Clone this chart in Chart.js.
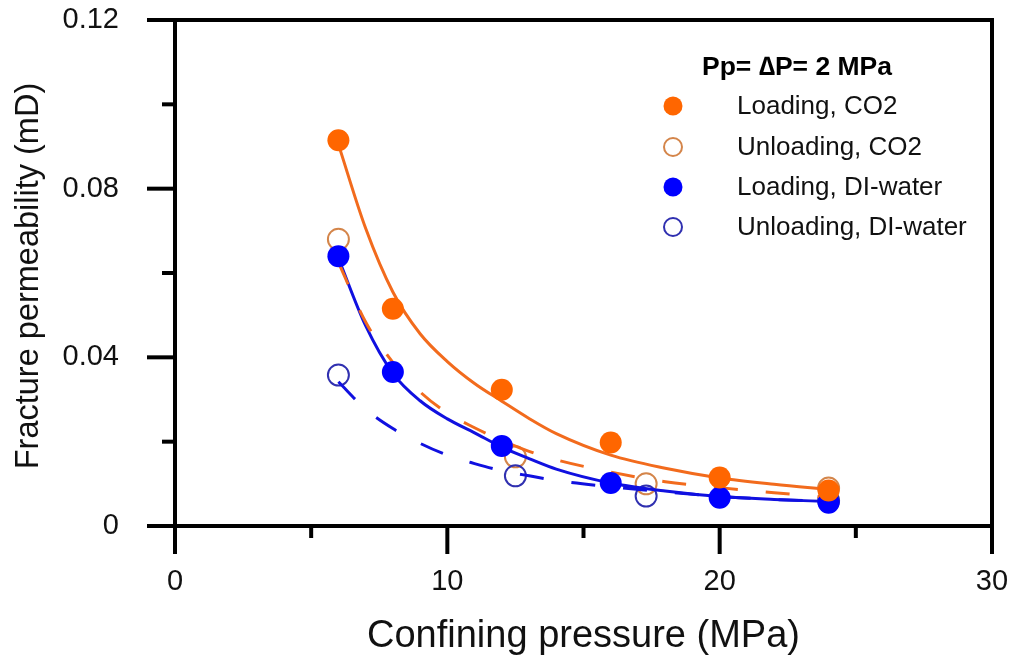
<!DOCTYPE html>
<html>
<head>
<meta charset="utf-8">
<script src="https://cdn.jsdelivr.net/npm/chart.js@4/dist/chart.umd.min.js"></script>
<style>
    body { margin: 0; background: #ffffff; }
    #wrap { width: 1013px; height: 664px; position: relative; }
</style>
</head>
<body>
<div id="wrap"><canvas id="permChart"></canvas></div>
<script>
// measured points
const pressureLoad = [6, 8, 12, 16, 20, 24];
const loadingCO2 = [0.0915, 0.0515, 0.0323, 0.0198, 0.0115, 0.0084];
const loadingWater = [0.0640, 0.0365, 0.0190, 0.0102, 0.0067, 0.0055];

const pressureUnload = [6, 12.5, 17.3, 24];
const unloadingCO2 = [0.0680, 0.0164, 0.0100, 0.0090];
const unloadingWater = [0.0358, 0.0119, 0.0071, 0.0060];

// fitted curves
const fitPressure = [6, 7, 8, 9, 10, 11, 12, 13, 14, 16, 18, 20, 22, 24];
const fitLoadingCO2 = [0.0905, 0.0706, 0.0555, 0.0456, 0.0390, 0.0338, 0.0296, 0.0255, 0.0219, 0.0168, 0.0137, 0.0114, 0.0099, 0.0087];
const fitUnloadingCO2 = [0.0625, 0.0484, 0.0388, 0.0318, 0.0268, 0.0233, 0.0203, 0.0177, 0.0157, 0.0128, 0.0105, 0.0091, 0.0079, 0.0068];
const fitLoadingWater = [0.0635, 0.0475, 0.0362, 0.0297, 0.0254, 0.0221, 0.0187, 0.0160, 0.0135, 0.0102, 0.0083, 0.0070, 0.0063, 0.0058];
const fitUnloadingWater = [0.0342, 0.0277, 0.0231, 0.0196, 0.0168, 0.0148, 0.0131, 0.0119, 0.0108, 0.0093, 0.0081, 0.0070, 0.0063, 0.0058];

// axis ticks
const xTickValues = [0, 5, 10, 15, 20, 25, 30];
const xMajorTicks = [0, 10, 20, 30];
const yTickValues = [0, 0.02, 0.04, 0.06, 0.08, 0.10, 0.12];
const yMajorTicks = [0, 0.04, 0.08, 0.12];
const yTickLabels = ['0', '0.04', '0.08', '0.12'];

const yTitle = 'Fracture permeability (mD)';
const legendTitle = 'Pp= \u2206P= 2 MPa';
const legendLabels = ['Loading, CO2', 'Unloading, CO2', 'Loading, DI-water', 'Unloading, DI-water'];

const FONT = "'Liberation Sans', Arial, Helvetica, sans-serif";
const ORANGE = '#ff6600';
const ORANGE_OPEN = '#d4854a';
const ORANGE_LINE = '#f26b1d';
const BLUE = '#0000ff';
const BLUE_OPEN = '#3030b0';
const BLUE_LINE = '#1010e0';

function toPoints(xs, ys) {
    return xs.map((x, i) => ({ x: x, y: ys[i] }));
}

const frameAndTicks = {
    id: 'frameAndTicks',
    afterDraw(chart) {
        const ctx = chart.ctx;
        const area = chart.chartArea;
        const xs = chart.scales.x;
        const ys = chart.scales.y;

        ctx.save();
        ctx.strokeStyle = '#000000';
        ctx.lineWidth = 4;
        ctx.lineCap = 'butt';
        ctx.strokeRect(area.left, area.top, area.right - area.left, area.bottom - area.top);

        xTickValues.forEach(v => {
            const px = xs.getPixelForValue(v);
            const len = xMajorTicks.includes(v) ? 28 : 12;
            ctx.beginPath();
            ctx.moveTo(px, area.bottom);
            ctx.lineTo(px, area.bottom + len);
            ctx.stroke();
        });

        yTickValues.forEach(v => {
            const py = ys.getPixelForValue(v);
            const len = yMajorTicks.includes(v) ? 28 : 13;
            ctx.beginPath();
            ctx.moveTo(area.left, py);
            ctx.lineTo(area.left - len, py);
            ctx.stroke();
        });

        // y axis title
        ctx.save();
        ctx.translate(29, 276);
        ctx.rotate(-Math.PI / 2);
        ctx.fillStyle = '#111111';
        ctx.font = '32.5px ' + FONT;
        ctx.textAlign = 'center';
        ctx.textBaseline = 'middle';
        ctx.fillText(yTitle, 0, 0);
        ctx.restore();

        // legend inside the plot
        ctx.fillStyle = '#000000';
        ctx.textBaseline = 'middle';
        ctx.textAlign = 'center';
        ctx.font = 'bold 26.5px ' + FONT;
        ctx.fillText(legendTitle, 797, 68);

        const rows = [106, 147, 187, 227];
        const markers = [
            { fill: ORANGE, stroke: ORANGE },
            { fill: null, stroke: ORANGE_OPEN },
            { fill: BLUE, stroke: BLUE },
            { fill: null, stroke: BLUE_OPEN }
        ];
        ctx.font = '26px ' + FONT;
        ctx.textAlign = 'left';
        legendLabels.forEach((label, i) => {
            const m = markers[i];
            ctx.beginPath();
            ctx.arc(673, rows[i], m.fill ? 9.5 : 9, 0, Math.PI * 2);
            if (m.fill) {
                ctx.fillStyle = m.fill;
                ctx.fill();
            } else {
                ctx.strokeStyle = m.stroke;
                ctx.lineWidth = 2;
                ctx.stroke();
            }
            ctx.fillStyle = '#111111';
            ctx.fillText(label, 737, rows[i] + 1);
        });
        ctx.restore();
    }
};

function initChart() {
    const ctx = document.getElementById('permChart').getContext('2d');

    const pointSet = (label, xs, ys, fill, stroke, order) => ({
        label: label,
        data: toPoints(xs, ys),
        showLine: false,
        pointRadius: fill ? 11 : 10.5,
        pointBackgroundColor: fill || 'rgba(0,0,0,0)',
        pointBorderColor: stroke,
        pointBorderWidth: fill ? 0 : 2,
        order: order
    });

    const curveSet = (label, ys, color, dashed, order) => ({
        label: label,
        data: toPoints(fitPressure, ys),
        showLine: true,
        pointRadius: 0,
        borderColor: color,
        borderWidth: 3,
        borderDash: dashed ? [24, 28] : [],
        cubicInterpolationMode: 'monotone',
        fill: false,
        order: order
    });

    // invisible tick marks just push the labels away from the axis
    const hiddenGrid = (len) => ({
        display: true,
        drawOnChartArea: false,
        drawTicks: true,
        tickLength: len,
        color: 'rgba(0,0,0,0)'
    });

    new Chart(ctx, {
        type: 'scatter',
        data: {
            datasets: [
                pointSet('Loading, CO2', pressureLoad, loadingCO2, ORANGE, ORANGE, 1),
                pointSet('Loading, DI-water', pressureLoad, loadingWater, BLUE, BLUE, 2),
                curveSet('Fit loading CO2', fitLoadingCO2, ORANGE_LINE, false, 4),
                curveSet('Fit unloading CO2', fitUnloadingCO2, ORANGE_LINE, true, 3),
                curveSet('Fit loading DI-water', fitLoadingWater, BLUE_LINE, false, 5),
                curveSet('Fit unloading DI-water', fitUnloadingWater, BLUE_LINE, true, 6),
                pointSet('Unloading, CO2', pressureUnload, unloadingCO2, null, ORANGE_OPEN, 8),
                pointSet('Unloading, DI-water', pressureUnload, unloadingWater, null, BLUE_OPEN, 7)
            ]
        },
        options: {
            responsive: true,
            maintainAspectRatio: false,
            animation: false,
            layout: {
                padding: { left: 0, right: 21, top: 20, bottom: 0 }
            },
            plugins: {
                legend: { display: false },
                tooltip: { enabled: false }
            },
            scales: {
                x: {
                    type: 'linear',
                    min: 0,
                    max: 30,
                    afterFit: function(scale) { scale.height = 138; },
                    grid: hiddenGrid(39),
                    border: { display: false },
                    ticks: {
                        stepSize: 10,
                        padding: 0,
                        color: '#111111',
                        font: { family: FONT, size: 29 },
                        maxRotation: 0
                    },
                    title: {
                        display: true,
                        text: 'Confining pressure (MPa)',
                        color: '#111111',
                        font: { family: FONT, size: 38 },
                        padding: { top: 0, bottom: 5 }
                    }
                },
                y: {
                    type: 'linear',
                    min: 0,
                    max: 0.12,
                    afterFit: function(scale) { scale.width = 175; },
                    grid: hiddenGrid(56),
                    border: { display: false },
                    ticks: {
                        stepSize: 0.04,
                        padding: 0,
                        color: '#111111',
                        font: { family: FONT, size: 29 },
                        callback: function(value) {
                            const idx = yMajorTicks.findIndex(t => Math.abs(t - value) < 1e-9);
                            return idx >= 0 ? yTickLabels[idx] : '';
                        }
                    }
                }
            }
        },
        plugins: [frameAndTicks]
    });
}

document.addEventListener('DOMContentLoaded', initChart);
</script>
</body>
</html>
